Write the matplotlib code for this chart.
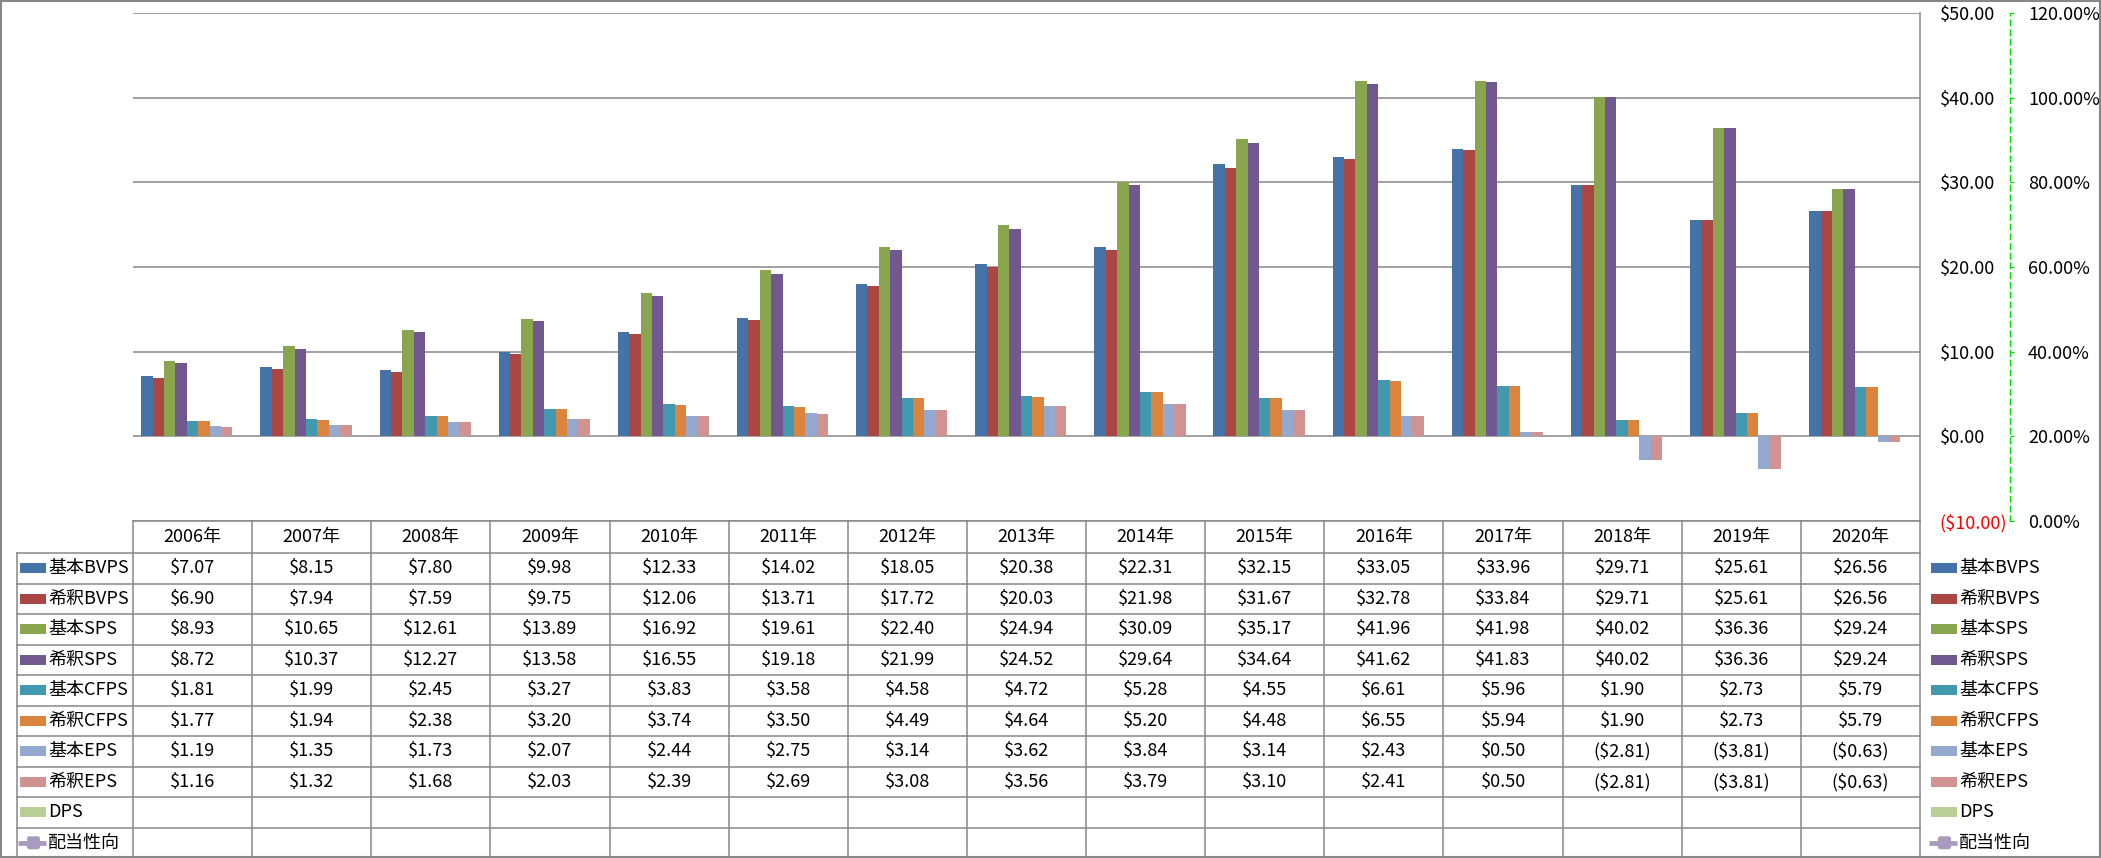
import matplotlib
matplotlib.use('Agg')
import matplotlib.pyplot as plt
import numpy as np
from matplotlib.patches import Rectangle, FancyBboxPatch
from matplotlib.lines import Line2D

plt.rcParams['font.family'] = ['Noto Sans CJK JP', 'DejaVu Sans']

# ---------------- data ----------------
years = ["2006年", "2007年", "2008年", "2009年", "2010年", "2011年", "2012年", "2013年",
         "2014年", "2015年", "2016年", "2017年", "2018年", "2019年", "2020年"]
basic_bvps = [7.07, 8.15, 7.80, 9.98, 12.33, 14.02, 18.05, 20.38, 22.31, 32.15, 33.05, 33.96, 29.71, 25.61, 26.56]
dil_bvps = [6.90, 7.94, 7.59, 9.75, 12.06, 13.71, 17.72, 20.03, 21.98, 31.67, 32.78, 33.84, 29.71, 25.61, 26.56]
basic_sps = [8.93, 10.65, 12.61, 13.89, 16.92, 19.61, 22.40, 24.94, 30.09, 35.17, 41.96, 41.98, 40.02, 36.36, 29.24]
dil_sps = [8.72, 10.37, 12.27, 13.58, 16.55, 19.18, 21.99, 24.52, 29.64, 34.64, 41.62, 41.83, 40.02, 36.36, 29.24]
basic_cfps = [1.81, 1.99, 2.45, 3.27, 3.83, 3.58, 4.58, 4.72, 5.28, 4.55, 6.61, 5.96, 1.90, 2.73, 5.79]
dil_cfps = [1.77, 1.94, 2.38, 3.20, 3.74, 3.50, 4.49, 4.64, 5.20, 4.48, 6.55, 5.94, 1.90, 2.73, 5.79]
basic_eps = [1.19, 1.35, 1.73, 2.07, 2.44, 2.75, 3.14, 3.62, 3.84, 3.14, 2.43, 0.50, -2.81, -3.81, -0.63]
dil_eps = [1.16, 1.32, 1.68, 2.03, 2.39, 2.69, 3.08, 3.56, 3.79, 3.10, 2.41, 0.50, -2.81, -3.81, -0.63]
dps = [None] * 15
payout = [None] * 15

series_names = ["基本BVPS", "希釈BVPS", "基本SPS", "希釈SPS", "基本CFPS", "希釈CFPS",
                "基本EPS", "希釈EPS", "DPS", "配当性向"]
series_vals = [basic_bvps, dil_bvps, basic_sps, dil_sps, basic_cfps, dil_cfps,
               basic_eps, dil_eps, dps, payout]
colors = ["#4572A7", "#AA4643", "#89A54E", "#71588F", "#4198AF", "#DB843D",
          "#93A9CF", "#D19392", "#B9CD96", "#A99BBD"]

left_ticks = [-10, 0, 10, 20, 30, 40, 50]
right_ticks = [0.0, 0.2, 0.4, 0.6, 0.8, 1.0, 1.2]

# ---------------- layout (pixels) ----------------
W, H = 2101, 858
PL, PR, PT, PB = 133, 1920, 13, 521
LEG_L = 17
HDR_B = 553
ROW_H = (H - HDR_B) / 10.0
FS = 13
GRID = "#878787"

fig = plt.figure(figsize=(W / 100, H / 100), dpi=100)

ax = fig.add_axes([PL / W, (H - PB) / H, (PR - PL) / W, (PB - PT) / H])
ncat = len(years)
x = np.arange(ncat) + 0.5
nbar = 9
bw = 11.4 / ((PR - PL) / ncat)
for k in range(nbar):
    vals = series_vals[k]
    if all(v is None for v in vals):
        continue
    ax.bar(x + (k - (nbar - 1) / 2) * bw, vals, width=bw, color=colors[k], zorder=3, linewidth=0)

ax.set_xlim(0, ncat)
ax.set_ylim(-10, 50)
ax.set_xticks([])

ax2 = ax.twinx()

ax.set_yticks(left_ticks)
ax.yaxis.set_ticks_position('right')
ax.yaxis.set_label_position('right')
labs = []
for t in left_ticks:
    labs.append(f"(${-t:.2f})" if t < 0 else f"${t:.2f}")
ax.set_yticklabels(labs)
ax.tick_params(axis='y', length=0, pad=14, labelsize=FS, labelright=True, labelleft=False)
for lab, t in zip(ax.get_yticklabels(), left_ticks):
    if t < 0:
        lab.set_color("red")
ax.yaxis.grid(True, color=GRID, linewidth=1.1, zorder=1)
ax.set_axisbelow(True)
for s in ["left", "top"]:
    ax.spines[s].set_visible(False)
ax.spines["right"].set_color(GRID)
ax.spines["right"].set_linewidth(1.1)
ax.spines["bottom"].set_color(GRID)
ax.spines["bottom"].set_linewidth(1.1)
ax.patch.set_alpha(0)

ax2.set_ylim(0, 1.2)
ax2.set_yticks(right_ticks)
ax2.set_yticklabels([f"{t * 100:.2f}%" for t in right_ticks])
ax2.spines["right"].set_position(("axes", (2010 - PL) / (PR - PL)))
ax2.spines["right"].set_color("#00DD00")
ax2.spines["right"].set_linestyle((0, (4, 3)))
ax2.spines["right"].set_linewidth(1.0)
for s in ["left", "top", "bottom"]:
    ax2.spines[s].set_visible(False)
ax2.tick_params(axis='y', direction='out', length=3, color="#00DD00", pad=10, labelsize=FS)
ax2.set_xticks([])
ax2.patch.set_alpha(0)

# ---------------- data table ----------------
tax = fig.add_axes([0, 0, 1, 1])
tax.set_xlim(0, W)
tax.set_ylim(H, 0)
tax.axis("off")
tax.patch.set_alpha(0)

colw = (PR - PL) / ncat
lc = dict(color=GRID, linewidth=1.1)
for i in range(ncat + 1):
    xx = PL + i * colw
    tax.add_line(Line2D([xx, xx], [PB, H], **lc))
tax.add_line(Line2D([LEG_L, LEG_L], [HDR_B, H], **lc))
tax.add_line(Line2D([LEG_L, PR], [HDR_B, HDR_B], **lc))
for r in range(1, 10):
    yy = HDR_B + r * ROW_H
    tax.add_line(Line2D([LEG_L, PR], [yy, yy], **lc))

for i, y in enumerate(years):
    tax.text(PL + (i + 0.5) * colw, (PB + HDR_B) / 2, y, ha="center", va="center", fontsize=FS)


def fmt(v):
    if v is None:
        return ""
    return f"(${-v:.2f})" if v < 0 else f"${v:.2f}"


def legend_key(xl, yc, k):
    if k == 9:
        tax.add_line(Line2D([xl - 2, xl + 26], [yc, yc], color=colors[k], linewidth=3.5,
                            solid_capstyle="butt"))
        tax.add_patch(FancyBboxPatch((xl + 7, yc - 6.5), 13, 13,
                                     boxstyle="round,pad=0,rounding_size=2.5",
                                     facecolor=colors[k], edgecolor="none"))
    else:
        tax.add_patch(Rectangle((xl, yc - 5), 26, 10, facecolor=colors[k], edgecolor="none"))


for r, (name, vals) in enumerate(zip(series_names, series_vals)):
    yc = HDR_B + (r + 0.5) * ROW_H
    legend_key(20, yc, r)
    tax.text(48, yc, name, ha="left", va="center", fontsize=FS)
    for i, v in enumerate(vals):
        tax.text(PL + (i + 0.5) * colw, yc, fmt(v), ha="center", va="center", fontsize=FS)
    legend_key(1931, yc, r)
    tax.text(1959, yc, name, ha="left", va="center", fontsize=FS)

tax.add_patch(Rectangle((1, 1), W - 2, H - 2, fill=False, edgecolor=GRID, linewidth=1.5))

fig.savefig("out.png", dpi=100)
